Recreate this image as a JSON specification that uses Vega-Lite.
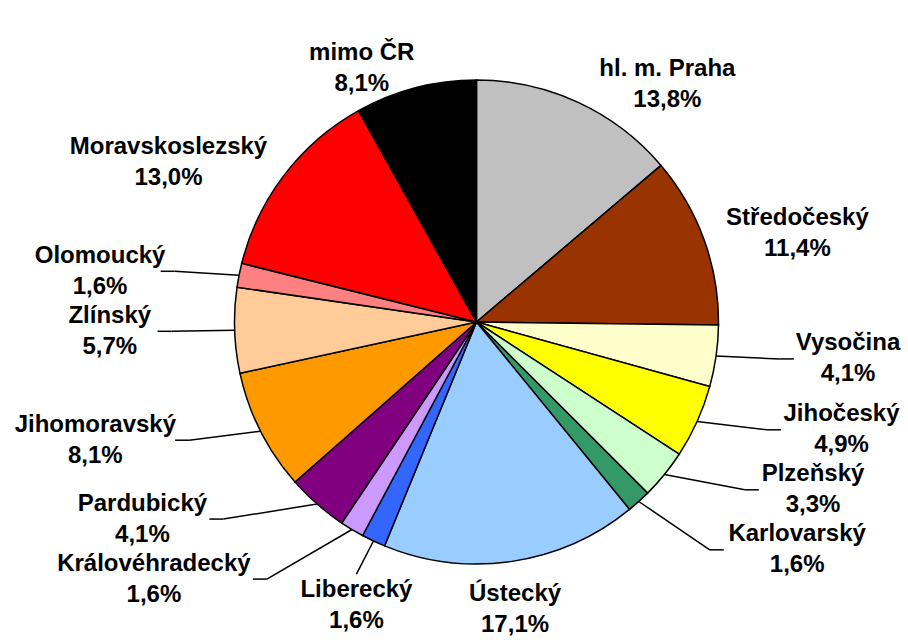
{
  "$schema": "https://vega.github.io/schema/vega-lite/v6.json",
  "width": 863,
  "height": 640,
  "autosize": "none",
  "padding": {"left": 45, "top": 2, "right": 0, "bottom": 0},
  "background": "white",
  "config": {"view": {"stroke": null}},
  "data": {
    "values": [
      {"name": "hl. m. Praha", "v": 13.8},
      {"name": "Středočeský", "v": 11.4},
      {"name": "Vysočina", "v": 4.1},
      {"name": "Jihočeský", "v": 4.9},
      {"name": "Plzeňský", "v": 3.3},
      {"name": "Karlovarský", "v": 1.6},
      {"name": "Ústecký", "v": 17.1},
      {"name": "Liberecký", "v": 1.6},
      {"name": "Královéhradecký", "v": 1.6},
      {"name": "Pardubický", "v": 4.1},
      {"name": "Jihomoravský", "v": 8.1},
      {"name": "Zlínský", "v": 5.7},
      {"name": "Olomoucký", "v": 1.6},
      {"name": "Moravskoslezský", "v": 13.0},
      {"name": "mimo ČR", "v": 8.1}
    ]
  },
  "transform": [
    {"window": [{"op": "row_number", "as": "idx"}, {"op": "sum", "field": "v", "as": "cum"}], "frame": [null, 0]},
    {"calculate": "datum.cum - datum.v", "as": "start"},
    {"calculate": "2*PI*(datum.cum - datum.v/2)/100", "as": "m"},
    {"calculate": "sin(datum.m)", "as": "s"},
    {"calculate": "cos(datum.m)", "as": "c"},
    {"calculate": "datum.v < 9 && abs(datum.s) > 0.3", "as": "leader"},
    {"calculate": "datum.c < 0 && abs(datum.s) < 0.45", "as": "ctr"},
    {"calculate": "datum.ctr ? 0 : (datum.s > 0 ? 1 : -1)", "as": "side"},
    {"calculate": "-262*datum.c", "as": "y0"},
    {"calculate": "datum.side > 0 ? datum.m : -datum.m", "as": "key"},
    {"window": [{"op": "row_number", "as": "rank"}], "groupby": ["side"], "sort": [{"field": "key", "order": "ascending"}]},
    {"calculate": "datum.y0 - (datum.rank - 1)*60", "as": "t"},
    {"window": [{"op": "max", "field": "t", "as": "tmax"}], "groupby": ["side"], "sort": [{"field": "key", "order": "ascending"}], "frame": [null, 0]},
    {"calculate": "datum.tmax + (datum.rank - 1)*60", "as": "ys"},
    {"calculate": "datum.leader ? 318*sqrt(max(1 - pow(datum.ys/360, 2), 0)) : sqrt(max(262*262 - datum.ys*datum.ys, 0))", "as": "ax"},
    {"calculate": "12.8*length(datum.name)", "as": "w"},
    {"calculate": "262 + (datum.leader ? 20 : 0)", "as": "rc"},
    {"calculate": "datum.side == 0 ? datum.rc*datum.s : datum.side*(datum.ax + 4 + datum.w/2)", "as": "lx"},
    {"calculate": "datum.side == 0 ? -datum.rc*datum.c + 28 : datum.ys", "as": "ly"},
    {"calculate": "datum.side == 0 ? datum.lx : datum.side*(datum.ax - 13)", "as": "ex"},
    {"calculate": "datum.side == 0 ? datum.ly - 31 : datum.ly", "as": "ey"},
    {"calculate": "datum.side == 0 ? datum.lx : datum.side*(datum.ax + 1)", "as": "sx"},
    {"calculate": "242*datum.s", "as": "px"},
    {"calculate": "-242*datum.c", "as": "py"},
    {"calculate": "replace(format(datum.v, '.1f'), '.', ',') + '%'", "as": "pct"},
    {"calculate": "datum.name + '\\n' + datum.pct", "as": "lbl"}
  ],
  "layer": [
    {
      "mark": {"type": "arc", "outerRadius": 242, "stroke": "black", "strokeWidth": 1.5},
      "encoding": {
        "theta": {"field": "start", "type": "quantitative", "stack": null, "scale": {"domain": [0, 100], "range": [0, 6.283185307179586]}},
        "theta2": {"field": "cum"},
        "color": {
          "field": "name",
          "type": "nominal",
          "legend": null,
          "scale": {
            "domain": ["hl. m. Praha", "Středočeský", "Vysočina", "Jihočeský", "Plzeňský", "Karlovarský", "Ústecký", "Liberecký", "Královéhradecký", "Pardubický", "Jihomoravský", "Zlínský", "Olomoucký", "Moravskoslezský", "mimo ČR"],
            "range": ["#C0C0C0", "#993300", "#FFFFCC", "#FFFF00", "#CCFFCC", "#339966", "#99CCFF", "#3366FF", "#CC99FF", "#800080", "#FF9900", "#FFCC99", "#FF8080", "#FF0000", "#000000"]
          }
        }
      }
    },
    {
      "transform": [{"filter": "datum.leader"}],
      "mark": {"type": "rule", "stroke": "black", "strokeWidth": 1.5},
      "encoding": {
        "x": {"field": "px", "type": "quantitative", "axis": null, "scale": {"domain": [-431.5, 431.5], "nice": false, "zero": false}},
        "y": {"field": "py", "type": "quantitative", "axis": null, "scale": {"domain": [-320, 320], "range": [0, 640], "nice": false, "zero": false}},
        "x2": {"field": "ex"},
        "y2": {"field": "ey"}
      }
    },
    {
      "transform": [{"filter": "datum.leader && datum.side != 0"}],
      "mark": {"type": "rule", "stroke": "black", "strokeWidth": 1.5},
      "encoding": {
        "x": {"field": "ex", "type": "quantitative", "axis": null, "scale": {"domain": [-431.5, 431.5], "nice": false, "zero": false}},
        "y": {"field": "ey", "type": "quantitative", "axis": null, "scale": {"domain": [-320, 320], "range": [0, 640], "nice": false, "zero": false}},
        "x2": {"field": "sx"},
        "y2": {"field": "ey"}
      }
    },
    {
      "mark": {"type": "text", "font": "Liberation Sans", "fontWeight": "bold", "fontSize": 24, "lineHeight": 31, "lineBreak": "\n", "align": "center", "baseline": "middle", "dy": -15.5, "fill": "black"},
      "encoding": {
        "x": {"field": "lx", "type": "quantitative", "axis": null, "scale": {"domain": [-431.5, 431.5], "nice": false, "zero": false}},
        "y": {"field": "ly", "type": "quantitative", "axis": null, "scale": {"domain": [-320, 320], "range": [0, 640], "nice": false, "zero": false}},
        "text": {"field": "lbl"}
      }
    }
  ]
}
